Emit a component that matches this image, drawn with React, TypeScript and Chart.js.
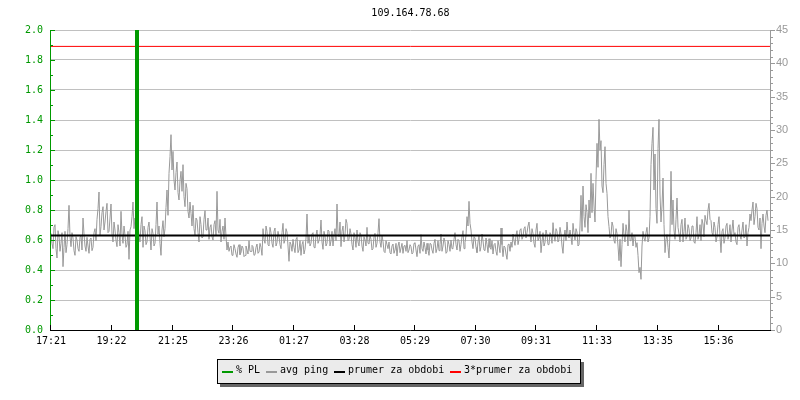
import React, { useEffect, useRef } from "react";
import { Chart, registerables } from "chart.js";

Chart.register(...registerables);

// ---------- data ----------
const chartTitle = "109.164.78.68";
const xTickLabels = ["17:21", "19:22", "21:25", "23:26", "01:27", "03:28", "05:29", "07:30", "09:31", "11:33", "13:35", "15:36"];
const xTickMinutes = [0, 121, 244, 365, 486, 607, 728, 849, 970, 1092, 1214, 1335];
const spanMinutes = 1438;
const sampleStepMinutes = 2;

// avg ping in ms (right axis): samples at minutes 0, 4, 8, ... from 17:21
const avgPingEven = [
  14.5, 12.2, 15.8, 10.8, 14.2, 13.0, 9.5, 14.8, 12.8, 18.7,
  12.5, 13.8, 11.2, 13.5, 11.8, 14.2, 16.8, 12.6, 13.9, 11.5,
  13.8, 12.4, 15.2, 16.6, 20.7, 15.5, 18.5, 16.2, 19.0, 14.8,
  18.9, 13.2, 15.0, 12.5, 14.6, 17.8, 13.0, 14.2, 12.8, 10.6,
  15.5, 19.2, 16.8, 18.0, 14.0, 15.8, 12.4, 14.9, 13.2, 16.2,
  12.0, 14.5, 13.0, 19.2, 15.6, 11.2, 16.4, 15.2, 21.0, 23.5,
  29.3, 26.8, 21.0, 25.2, 19.5, 23.8, 24.8, 18.5, 21.2, 16.8,
  17.5, 18.7, 14.2, 16.5, 13.2, 15.8, 14.0, 17.9, 15.0, 13.6,
  15.8, 13.5, 16.4, 20.8, 14.5, 13.2, 15.6, 16.8, 12.0, 11.8,
  12.6, 11.4, 12.2, 10.9, 12.8, 11.6, 12.3, 11.2, 12.0, 13.4,
  11.8, 12.5, 11.3, 12.9, 11.7, 12.4, 15.2, 13.0, 14.8, 12.6,
  14.6, 12.4, 15.3, 13.1, 14.0, 12.2, 16.0, 13.5, 14.7, 10.3,
  12.8, 13.6, 11.6, 13.9, 12.0, 11.2, 13.3, 12.1, 17.4, 14.2,
  13.0, 14.6, 12.3, 15.0, 13.4, 16.5, 12.1, 14.1, 13.0, 14.8,
  13.4, 12.6, 15.2, 18.9, 14.0, 12.5, 15.6, 14.3, 16.0, 13.6,
  14.4, 12.0, 13.8, 15.0, 12.6, 14.2, 11.8, 13.5, 15.4, 12.9,
  13.6, 12.2, 14.5, 13.0, 16.7, 12.4, 13.3, 11.6, 12.8, 13.2,
  11.4, 12.9, 12.0, 11.1, 13.2, 12.3, 11.5, 12.7, 13.4, 12.0,
  12.5, 11.6, 13.1, 11.0, 12.8, 14.3, 11.8, 12.4, 13.0, 11.2,
  12.9, 11.5, 13.6, 12.2, 11.9, 14.4, 12.6, 13.2, 11.7, 12.8,
  13.5, 12.4, 14.6, 12.0, 13.4, 12.8, 14.9, 13.1, 17.0, 19.3,
  15.0, 12.2, 13.8, 11.6, 14.2, 12.5, 13.4, 11.9, 12.8, 13.7,
  12.1, 11.4, 13.0, 11.2, 12.6, 15.3, 11.0, 12.4, 10.6, 12.9,
  13.2, 14.4, 12.7, 14.9, 13.6, 15.2, 14.0, 15.5, 14.6, 16.2,
  13.2, 14.5, 12.4, 16.0, 13.8, 11.6, 14.6, 13.1, 14.3, 12.8,
  14.2, 16.1, 13.3, 14.8, 13.6, 14.4, 11.5, 15.0, 16.2, 13.8,
  14.0, 16.0, 13.5, 14.7, 12.8, 20.2, 21.6, 15.4, 17.6, 19.5,
  23.5, 22.0, 16.2, 28.0, 31.6, 28.4, 20.6, 27.5, 20.5, 15.5,
  14.2, 15.6, 13.0, 14.5, 10.4, 9.5, 16.0, 13.2, 14.8, 18.0,
  13.4, 12.6, 14.0, 13.1, 8.6, 7.6, 14.8, 13.3, 15.4, 13.8,
  24.8, 30.4, 26.4, 16.0, 31.6, 16.2, 22.8, 11.6, 14.3, 10.8,
  23.8, 19.5, 13.6, 19.8, 14.4, 15.8, 13.2, 16.8, 14.0, 15.2,
  13.8, 15.6, 13.0, 17.0, 14.2, 13.4, 15.9, 17.2, 15.8, 19.0,
  16.4, 14.2, 15.4, 14.0, 17.0, 11.6, 15.2, 13.8, 16.0, 14.4,
  13.2, 16.5, 14.6, 12.8, 15.8, 13.6, 16.2, 14.0, 12.6, 15.4,
  16.4, 19.2, 17.0, 18.2, 15.0, 12.2, 17.4, 14.6, 18.0,
];

// avg ping in ms: samples at minutes 2, 6, 10, ...
const avgPingOdd = [
  13.0, 15.4, 12.2, 14.9, 11.8, 14.6, 12.4, 11.6, 15.2, 14.0,
  14.6, 11.9, 14.0, 12.2, 13.9, 12.0, 14.4, 11.8, 12.6, 13.6,
  11.9, 14.6, 13.4, 18.2, 14.2, 17.6, 15.0, 17.8, 14.6, 16.8,
  14.4, 16.2, 13.4, 15.8, 12.6, 14.4, 15.6, 12.4, 14.8, 15.0,
  17.0, 15.2, 14.6, 16.4, 13.2, 17.0, 15.6, 12.8, 15.4, 14.0,
  15.2, 12.6, 15.8, 14.4, 13.0, 15.0, 14.0, 18.4, 17.2, 26.0,
  24.0, 22.5, 23.6, 20.6, 22.4, 20.8, 20.0, 22.0, 17.8, 19.2,
  15.6, 15.2, 16.8, 14.6, 17.0, 13.8, 16.6, 15.0, 16.8, 15.4,
  14.0, 15.8, 14.2, 15.0, 16.6, 14.8, 13.6, 14.0, 13.2, 12.4,
  11.2, 12.8, 11.4, 12.4, 11.3, 12.6, 11.0, 12.6, 11.4, 11.8,
  12.7, 11.2, 12.4, 11.5, 13.0, 11.2, 13.6, 15.6, 12.8, 15.4,
  13.0, 14.8, 12.6, 14.8, 12.8, 14.6, 13.0, 15.2, 12.6, 13.2,
  11.8, 12.4, 13.6, 11.6, 13.4, 12.8, 11.4, 13.8, 13.0, 12.6,
  14.4, 12.4, 14.2, 13.0, 14.2, 13.2, 14.8, 12.6, 15.0, 12.6,
  14.8, 14.2, 13.4, 14.4, 16.2, 14.8, 13.2, 16.6, 13.4, 15.2,
  12.8, 14.6, 12.4, 13.2, 14.6, 12.6, 14.0, 12.6, 13.0, 14.2,
  12.0, 14.0, 12.4, 14.6, 13.2, 14.2, 11.8, 13.4, 12.2, 11.6,
  12.6, 11.5, 13.0, 12.6, 11.6, 13.0, 12.6, 11.8, 11.6, 12.8,
  11.4, 13.0, 12.0, 12.6, 11.5, 12.2, 13.2, 11.4, 12.0, 13.0,
  12.0, 13.0, 11.6, 13.4, 12.8, 11.8, 13.8, 11.5, 13.4, 11.8,
  12.2, 13.6, 12.8, 13.6, 11.8, 14.0, 12.2, 14.2, 15.6, 16.0,
  13.2, 14.0, 12.4, 13.2, 11.8, 14.4, 12.0, 13.8, 11.6, 12.4,
  13.4, 12.8, 11.8, 13.4, 11.6, 12.8, 12.6, 11.4, 12.8, 11.8,
  12.4, 13.4, 14.2, 12.8, 15.0, 13.6, 15.2, 13.8, 15.6, 14.4,
  15.2, 13.0, 15.0, 13.4, 14.8, 13.2, 12.6, 15.0, 12.8, 14.6,
  13.0, 14.2, 15.2, 13.2, 15.4, 12.6, 14.0, 13.4, 14.4, 15.0,
  12.8, 14.6, 15.2, 12.6, 15.6, 14.8, 17.0, 18.8, 14.6, 16.8,
  17.6, 18.6, 22.6, 24.4, 27.0, 21.6, 24.8, 22.0, 17.0, 13.8,
  16.2, 13.4, 15.2, 12.6, 13.6, 12.8, 14.2, 15.8, 12.6, 13.4,
  14.6, 14.2, 12.4, 11.2, 9.4, 12.6, 13.8, 14.6, 13.2, 17.0,
  28.0, 21.0, 18.2, 27.2, 20.4, 18.6, 15.8, 13.6, 12.4, 14.6,
  15.8, 15.0, 16.6, 15.4, 13.2, 16.6, 14.8, 13.6, 15.8, 13.4,
  15.6, 13.2, 14.6, 13.6, 15.8, 16.6, 14.0, 16.4, 18.0, 16.6,
  14.6, 16.2, 13.2, 15.8, 14.0, 14.8, 13.0, 15.6, 13.6, 15.8,
  15.0, 14.2, 13.2, 15.4, 14.2, 15.0, 13.8, 15.8, 14.6, 17.4,
  18.0, 15.8, 19.0, 15.4, 16.8, 16.0, 15.6, 17.2, 16.4,
];

const prumerZaObdobi = 14.18; // ms
const prumer3ZaObdobi = 42.54; // ms
const plEventMinute = 172; // % PL event
const plEventValue = 2.0;

const leftAxisMax = 2.0;
const leftAxisStep = 0.2;
const leftMinorStep = 0.1;
const rightAxisMax = 45;
const rightAxisStep = 5;
const rightMinorStep = 1;

const legendLabels = ["% PL", "avg ping", "prumer za obdobi", "3*prumer za obdobi"];
const legendColors = ["#009900", "#999999", "#000000", "#ff0000"];

// ---------- styles ----------
const GREEN = "#009900";
const GRAY = "#999999";
const MONO = "'DejaVu Sans Mono', monospace";

const decorPlugin = {
  id: "decor",
  afterDraw(chart: any) {
    const { ctx, chartArea: a, scales } = chart;
    ctx.save();
    // title
    ctx.font = `10px ${MONO}`;
    ctx.fillStyle = "#000";
    ctx.textAlign = "center";
    ctx.textBaseline = "middle";
    ctx.fillText(chartTitle, (a.left + a.right) / 2, 13);

    ctx.lineWidth = 1;
    // left axis line + inward ticks
    const yl = scales.y;
    ctx.strokeStyle = GREEN;
    ctx.beginPath();
    ctx.moveTo(a.left - 0.5, a.top);
    ctx.lineTo(a.left - 0.5, a.bottom + 1);
    ctx.stroke();
    const nMinor = Math.round(leftAxisMax / leftMinorStep);
    for (let k = 0; k <= nMinor; k++) {
      const py = Math.round(yl.getPixelForValue(k * leftMinorStep)) + 0.5;
      const len = k % Math.round(leftAxisStep / leftMinorStep) === 0 ? 5 : 3;
      ctx.beginPath();
      ctx.moveTo(a.left - 1, py);
      ctx.lineTo(a.left - 1 + len, py);
      ctx.stroke();
    }
    // right axis line + outward ticks
    const yr = scales.y1;
    ctx.strokeStyle = GRAY;
    ctx.beginPath();
    ctx.moveTo(a.right + 0.5, a.top);
    ctx.lineTo(a.right + 0.5, a.bottom + 1);
    ctx.stroke();
    for (let v = 0; v <= rightAxisMax; v += rightMinorStep) {
      const py = Math.round(yr.getPixelForValue(v)) + 0.5;
      const len = v % rightAxisStep === 0 ? 5 : 3;
      ctx.beginPath();
      ctx.moveTo(a.right, py);
      ctx.lineTo(a.right + len, py);
      ctx.stroke();
    }
    // bottom axis line + upward ticks
    const xs = scales.x;
    ctx.strokeStyle = "#000";
    ctx.beginPath();
    ctx.moveTo(a.left - 1, a.bottom + 0.5);
    ctx.lineTo(a.right + 1, a.bottom + 0.5);
    ctx.stroke();
    xTickMinutes.forEach((m) => {
      const px = Math.round(xs.getPixelForValue(m)) - 0.5;
      ctx.beginPath();
      ctx.moveTo(px, a.bottom);
      ctx.lineTo(px, a.bottom - 5);
      ctx.stroke();
    });
    ctx.restore();
  },
};

export default function App() {
  const canvasRef = useRef<HTMLCanvasElement | null>(null);

  useEffect(() => {
    const canvas = canvasRef.current;
    if (!canvas) return;
    const merged: number[] = [];
    avgPingEven.forEach((v, i) => {
      merged.push(v);
      if (i < avgPingOdd.length) merged.push(avgPingOdd[i]);
    });
    const pingPoints = merged.map((v, i) => ({ x: i * sampleStepMinutes, y: v }));
    const chart = new Chart(canvas, {
      type: "line",
      data: {
        datasets: [
          {
            label: legendLabels[0],
            data: [
              { x: plEventMinute, y: 0 },
              { x: plEventMinute, y: plEventValue },
            ],
            yAxisID: "y",
            borderColor: legendColors[0],
            borderWidth: 4,
            pointRadius: 0,
            borderCapStyle: "butt",
          },
          {
            label: legendLabels[2],
            data: [
              { x: 0, y: prumerZaObdobi },
              { x: spanMinutes, y: prumerZaObdobi },
            ],
            yAxisID: "y1",
            borderColor: legendColors[2],
            borderWidth: 2,
            pointRadius: 0,
          },
          {
            label: legendLabels[3],
            data: [
              { x: 0, y: prumer3ZaObdobi },
              { x: spanMinutes, y: prumer3ZaObdobi },
            ],
            yAxisID: "y1",
            borderColor: legendColors[3],
            borderWidth: 1,
            pointRadius: 0,
          },
          {
            label: legendLabels[1],
            data: pingPoints,
            yAxisID: "y1",
            borderColor: legendColors[1],
            borderWidth: 1,
            pointRadius: 0,
            tension: 0,
          },
        ],
      },
      options: {
        responsive: false,
        devicePixelRatio: 1,
        animation: false,
        events: [],
        layout: { padding: { top: 30, left: 0, right: 0, bottom: 0 } },
        plugins: {
          legend: { display: false },
          tooltip: { enabled: false },
          title: { display: false },
        },
        scales: {
          x: {
            type: "linear",
            min: 0,
            max: spanMinutes,
            afterBuildTicks: (scale: any) => {
              scale.ticks = xTickMinutes.map((v) => ({ value: v }));
            },
            afterFit: (scale: any) => {
              scale.height = 70;
            },
            ticks: {
              autoSkip: false,
              maxRotation: 0,
              padding: 5,
              color: "#000",
              font: { family: MONO, size: 10 },
              callback: (_v: any, i: number) => xTickLabels[i],
            },
            grid: { display: false, drawTicks: false },
            border: { display: false },
          },
          y: {
            type: "linear",
            position: "left",
            min: 0,
            max: leftAxisMax,
            afterFit: (scale: any) => {
              scale.width = 51;
            },
            ticks: {
              stepSize: leftAxisStep,
              padding: 8,
              color: GREEN,
              font: { family: MONO, size: 10 },
              callback: (v: any) => Number(v).toFixed(1),
            },
            grid: { color: "#c0c0c0", lineWidth: 1, drawTicks: false },
            border: { display: false },
          },
          y1: {
            type: "linear",
            position: "right",
            min: 0,
            max: rightAxisMax,
            afterFit: (scale: any) => {
              scale.width = 30;
            },
            ticks: {
              stepSize: rightAxisStep,
              padding: 6,
              color: GRAY,
              font: { family: "'Liberation Sans', Arial, sans-serif", size: 11 },
            },
            grid: { display: false, drawTicks: false },
            border: { display: false },
          },
        },
      },
      plugins: [decorPlugin],
    } as any);
    return () => chart.destroy();
  }, []);

  const swatchLeft = [222, 266, 334, 450];
  const textLeft = [236, 280, 348, 464];

  return (
    <div style={{ position: "absolute", left: 0, top: 0, width: 800, height: 400, background: "#fff" }}>
      <canvas ref={canvasRef} width={800} height={400} style={{ display: "block", width: 800, height: 400 }} />
      <div
        style={{
          position: "absolute",
          left: 217,
          top: 359,
          width: 364,
          height: 25,
          boxSizing: "border-box",
          background: "#ebebeb",
          border: "1px solid #000",
          boxShadow: "3px 3px 0 #666666",
        }}
      />
      {legendLabels.map((lab, i) => (
        <React.Fragment key={lab}>
          <div
            style={{
              position: "absolute",
              left: swatchLeft[i],
              top: 371,
              width: 11,
              height: 2,
              background: legendColors[i],
            }}
          />
          <div
            style={{
              position: "absolute",
              left: textLeft[i],
              top: 363,
              height: 14,
              lineHeight: "14px",
              fontFamily: MONO,
              fontSize: 10,
              color: "#000",
              whiteSpace: "pre",
            }}
          >
            {lab}
          </div>
        </React.Fragment>
      ))}
    </div>
  );
}
